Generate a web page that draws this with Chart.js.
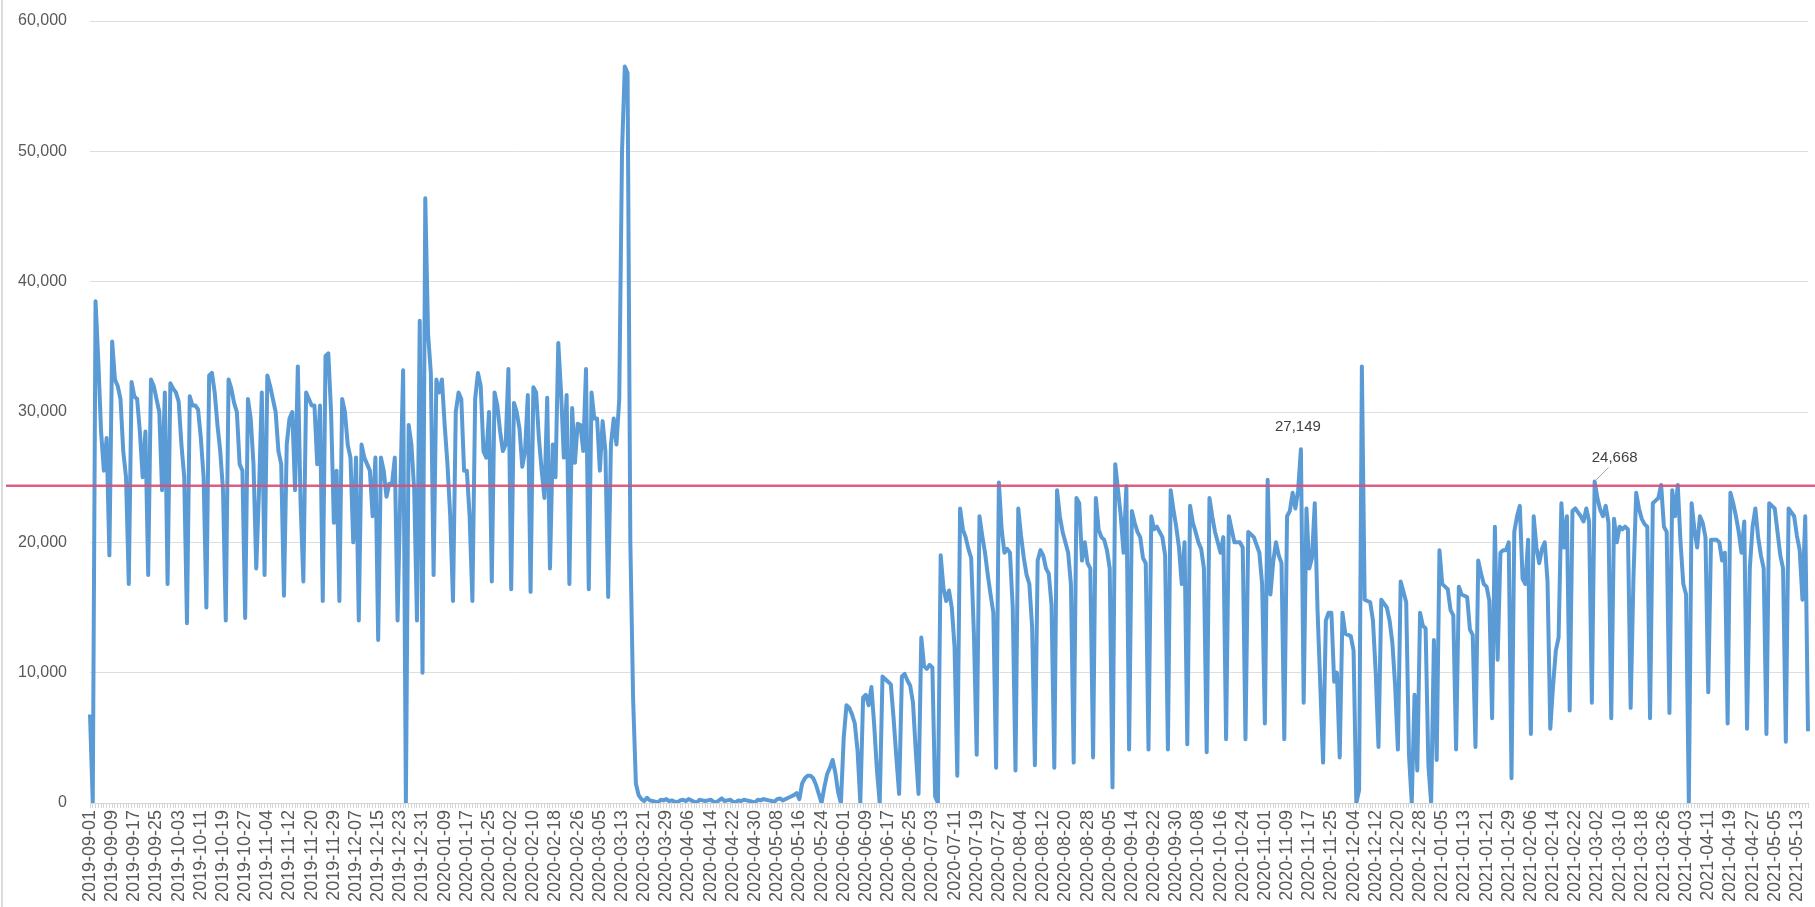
<!DOCTYPE html>
<html>
<head>
<meta charset="utf-8">
<title>Daily visits</title>
<script src="https://cdn.jsdelivr.net/npm/chart.js@4.4.1/dist/chart.umd.min.js"></script>
<style>
  html, body { margin: 0; padding: 0; background: #ffffff; }
  #wrap { position: relative; width: 1815px; height: 907px; }
</style>
</head>
<body>
<div id="wrap"><canvas id="visitsChart"></canvas></div>
<script>
// daily counts, split by period (dates come from startDate minus skippedDates)
const startDate = '2019-09-01';
const skippedDates = ['2019-11-28', '2020-01-01', '2020-09-07', '2020-11-26'];

const visits2019 = [
  6800, 0, 38500, 33900, 28500, 25500, 28000,
  19000, 35400, 32500, 32000, 31000, 27000, 25000,
  16800, 32300, 31200, 31000, 28500, 25000, 28500,
  17500, 32500, 32000, 31000, 30000, 24000, 31500,
  16800, 32200, 31800, 31500, 30800, 27500, 25000,
  13800, 31200, 30500, 30500, 30200, 28000, 25000,
  15000, 32800, 33000, 31500, 29000, 27000, 24000,
  14000, 32500, 31800, 30700, 30000, 26000, 25500,
  14200, 31000, 29500, 26000, 18000, 24000, 31500,
  17500, 32800, 32000, 31000, 30000, 27000, 26000,
  15900, 27500, 29500, 30000, 24000, 33500, 23000,
  17000, 31500, 31000, 30500, 30500, 26000, 30500,
  15500, 34300, 34500, 30000, 21500, 25500, 15500,
  31000, 30000, 27500, 26500, 20000, 26500, 14000,
  27500, 26500, 26000, 25500, 22000, 26500, 12500,
  26500, 25500, 23500, 24500, 24500, 26500, 14000,
  24000, 33200, 0, 29000, 27500, 24000, 14000,
  37000, 10000
];

const visits2020a = [
  46400, 36000, 33000, 17500, 32500, 31500, 32500,
  29000, 26000, 22000, 15500, 30000, 31500, 31000,
  25500, 25500, 22000, 15500, 31000, 33000, 32000,
  27000, 26500, 30000, 17000, 31500, 30500, 28500,
  27000, 27500, 33300, 16400, 30700, 30000, 28700,
  25800, 27000, 31300, 16200, 31900, 31500, 28000,
  25500, 23400, 31100, 18000, 27500, 25000, 35300,
  31500, 26500, 31300, 16800, 30300, 26100, 29100,
  29000, 27000, 33300, 16400, 31500, 29500, 29500,
  25500, 29300, 27000, 15800, 27500, 29500, 27500,
  31000, 50000, 56500, 56000, 20000, 8000, 1500,
  600, 300, 150, 400, 200, 150, 100,
  50, 250, 200, 300, 150, 200, 100,
  50, 200, 250, 150, 300, 200, 100,
  50, 250, 200, 150, 200, 250, 100,
  50, 200, 350, 150, 200, 250, 100,
  50, 200, 150, 250, 200, 150, 100,
  50, 250, 200, 300, 250, 200, 150,
  100, 300, 350, 200, 300, 400, 500,
  600, 750, 300, 1500, 1900, 2100, 2100,
  1900, 1400, 700, 0, 1200, 2200, 2700,
  3300, 2300, 800, 0, 5000, 7500, 7300,
  6800, 6100, 4000, 0, 8100, 8300, 7500,
  8900, 6000, 2500, 0, 9700, 9500, 9300,
  9100, 6500, 3500, 700, 9700, 9900, 9400,
  9000, 7700, 4000, 700, 12700, 10500
];

const visits2020b = [
  10300, 10600, 10400, 500, 0, 19000, 16500,
  15500, 16300, 15000, 12000, 2100, 22600, 21000,
  20400, 19500, 18800, 12900, 3700, 22000, 20500,
  19200, 17500, 16000, 14600, 2700, 24600, 21000,
  19200, 19500, 19200, 15000, 2500, 22600, 20500,
  18800, 17500, 16800, 13500, 2900, 18600, 19400,
  19000, 18000, 17600, 15200, 2700, 24000, 22000,
  20800, 20000, 19200, 16800, 3100, 23400, 23000,
  18600, 20000, 18400, 18000, 3500, 23400, 21000,
  20400, 20200, 19400, 18000, 1200, 26000, 24000,
  22000, 19200, 24300, 4100, 22400, 21500, 20800,
  20400, 18800, 18400, 4100, 22000, 21000, 21200,
  20800, 20400, 19000, 4100, 24000, 22500, 21200,
  19600, 16800, 20000, 4500, 22800, 21500, 20800,
  20000, 19500, 18000, 3900, 23400, 22000, 20800,
  20000, 19200, 20400, 4900, 22000, 21000, 20000,
  20000, 20000, 19600, 4900, 20800, 20600, 20400,
  19800, 19200, 16800, 6100, 24800, 16000, 18500,
  20000, 19000, 18400, 4900, 22000, 22400, 23800,
  22600, 24000, 27149, 7700, 22600, 18000, 18800,
  23000, 14800, 9000, 3100, 14000, 14600, 14600,
  9300, 10000, 3500, 14600, 13000, 12900, 12800,
  11700, 0, 1000, 33500, 15600, 15500, 15400,
  14000, 10000, 4300, 15600, 15300, 15000, 14000,
  12300, 9000, 4100, 17000, 16200, 15400, 3700,
  0, 8300, 2500, 14600, 13600, 13400, 2900
];

const visits2021 = [
  0, 12500, 3300, 19400, 16800, 16600, 16400,
  14800, 14400, 4100, 16600, 16000, 15900, 15800,
  13300, 12900, 4300, 18600, 17600, 16800, 16600,
  15500, 6500, 21200, 11000, 19200, 19400, 19400,
  20000, 1900, 20800, 22000, 22800, 17200, 16800,
  20200, 5300, 22000, 19600, 18400, 19500, 20000,
  17000, 5700, 9000, 11700, 12700, 23000, 19600,
  22000, 7100, 22400, 22600, 22300, 22000, 21600,
  22600, 21600, 7700, 24668, 23400, 22500, 22000,
  22800, 21500, 6500, 21800, 20000, 21200, 21000,
  21200, 21000, 7300, 17200, 23800, 22600, 21800,
  21400, 21200, 6500, 23000, 23200, 23400, 24400,
  21200, 20800, 6900, 24000, 22000, 24400, 20000,
  16800, 16000, 0, 23000, 21000, 19600, 22000,
  21500, 20400, 8500, 20200, 20200, 20200, 20000,
  18600, 19200, 6100, 23800, 23000, 22000, 20800,
  19200, 21600, 5700, 18000, 21200, 22600, 20400,
  19000, 18000, 5300, 23000, 22800, 22600, 20800,
  19000, 18000, 4700, 22600, 22300, 22000, 20500,
  19400, 15600, 22000, 5500
];

const targetLevel = 24350;            // horizontal reference line
const labeledValues = [27149, 24668]; // points that carry a value label
const tickEvery = 8;                  // date label on every 8th day
const yTicks = [0, 10000, 20000, 30000, 40000, 50000, 60000];

const visits = [].concat(visits2019, visits2020a, visits2020b, visits2021);

function buildDates(count) {
  const out = [];
  const d = new Date(startDate + 'T00:00:00Z');
  while (out.length < count) {
    const s = d.toISOString().slice(0, 10);
    if (!skippedDates.includes(s)) out.push(s);
    d.setUTCDate(d.getUTCDate() + 1);
  }
  return out;
}
const dates = buildDates(visits.length);

const fmt = v => v.toLocaleString('en-US');

// left frame edge, red reference line, value labels
const overlay = {
  id: 'overlay',
  beforeDraw(chart) {
    const ctx = chart.ctx;
    ctx.save();
    ctx.fillStyle = '#ffffff';
    ctx.fillRect(0, 0, chart.width, chart.height);
    ctx.strokeStyle = '#cfcfcf';
    ctx.lineWidth = 1.5;
    ctx.beginPath();
    ctx.moveTo(2, 0);
    ctx.lineTo(2, chart.height);
    ctx.stroke();
    ctx.restore();
  },
  afterDatasetsDraw(chart) {
    const ctx = chart.ctx;
    const xs = chart.scales.x, ys = chart.scales.y;
    const y = ys.getPixelForValue(targetLevel);
    ctx.save();
    ctx.strokeStyle = 'rgba(218, 78, 118, 0.9)';
    ctx.lineWidth = 2.5;
    ctx.beginPath();
    ctx.moveTo(6, y);
    ctx.lineTo(chart.width, y);
    ctx.stroke();

    ctx.font = '15px "Liberation Sans", Arial, sans-serif';
    ctx.fillStyle = '#404040';
    ctx.textAlign = 'center';
    ctx.textBaseline = 'middle';
    labeledValues.forEach((val, k) => {
      const i = visits.indexOf(val);
      const px = xs.getPixelForValue(i);
      const py = ys.getPixelForValue(val);
      if (k === 0) {
        ctx.fillText(fmt(val), px - 3, py - 22);
      } else {
        ctx.strokeStyle = '#a6a6a6';
        ctx.lineWidth = 1;
        ctx.beginPath();
        ctx.moveTo(px + 1, py - 1);
        ctx.lineTo(px + 14, py - 14);
        ctx.stroke();
        ctx.fillText(fmt(val), px + 20, py - 24);
      }
    });
    ctx.restore();
  }
};

new Chart(document.getElementById('visitsChart'), {
  type: 'line',
  data: {
    labels: dates,
    datasets: [{
      label: 'Visits',
      data: visits,
      borderColor: '#5b9bd5',
      borderWidth: 4,
      borderJoinStyle: 'round',
      pointRadius: 0,
      tension: 0,
      fill: false
    }]
  },
  options: {
    responsive: true,
    maintainAspectRatio: false,
    animation: false,
    events: [],
    layout: { padding: { top: 21, right: 7, bottom: 0, left: 0 } },
    plugins: {
      legend: { display: false },
      tooltip: { enabled: false }
    },
    scales: {
      x: {
        type: 'category',
        offset: false,
        grid: { display: true, drawOnChartArea: false, drawTicks: true, tickLength: 5, color: '#d6d6d6' },
        border: { display: true, color: '#d6d6d6' },
        ticks: {
          autoSkip: false,
          minRotation: 90,
          maxRotation: 90,
          padding: 2,
          color: '#595959',
          font: { family: '"Liberation Sans", Arial, sans-serif', size: 18 },
          callback: function (val, index) {
            return index % tickEvery === 0 ? this.getLabelForValue(val) : '';
          }
        },
        afterFit: s => {
          s.height = 104;
          s.paddingLeft = 0;
          s.paddingRight = 0;
        }
      },
      y: {
        min: yTicks[0],
        max: yTicks[yTicks.length - 1],
        afterBuildTicks: s => { s.ticks = yTicks.map(v => ({ value: v })); },
        grid: { color: '#dedede', drawTicks: false },
        border: { display: false },
        ticks: {
          padding: 23,
          color: '#595959',
          font: { family: '"Liberation Sans", Arial, sans-serif', size: 16 },
          callback: v => fmt(v)
        },
        afterFit: s => {
          s.width = 90;
          s.paddingTop = 0;
          s.paddingBottom = 0;
        }
      }
    }
  },
  plugins: [overlay]
});
</script>
</body>
</html>
